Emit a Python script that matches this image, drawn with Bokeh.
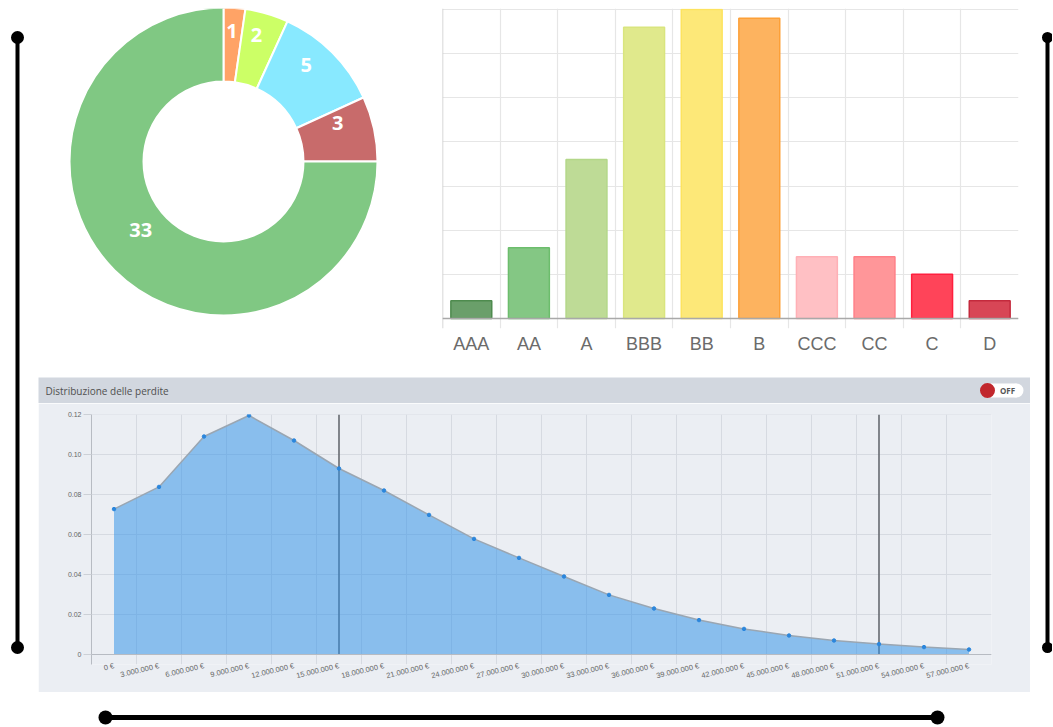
import numpy as np
from bokeh.plotting import figure
from bokeh.layouts import row, column
from bokeh.models import Range1d, FactorRange, FixedTicker, Span
from bokeh.core.properties import value
from bokeh.embed import file_html
from bokeh.resources import INLINE

# ---------------- data ----------------
donut_values = [1, 2, 5, 3, 33]
donut_colors = ["#ffa366", "#ccff66", "#88e9ff", "#c86b6b", "#80c883"]

ratings = ["AAA", "AA", "A", "BBB", "BB", "B", "CCC", "CC", "C", "D"]
rating_counts = [2, 8, 18, 33, 35, 34, 7, 7, 5, 2]
rating_fill = ["#6a9f6a", "#84c784", "#bedb96", "#e0e98c", "#fde878",
               "#fdb35f", "#ffc0c4", "#ff9699", "#ff4459", "#d84656"]
rating_line = ["#4e8b4e", "#6cbd6c", "#b3d789", "#d9e57e", "#fde35f",
               "#fda037", "#ffb0b6", "#ff8088", "#ff1f3e", "#c42a3d"]
count_ticks = [0, 5, 10, 15, 20, 25, 30, 35]

loss_labels = ["0 €", "3.000.000 €", "6.000.000 €", "9.000.000 €", "12.000.000 €",
               "15.000.000 €", "18.000.000 €", "21.000.000 €", "24.000.000 €",
               "27.000.000 €", "30.000.000 €", "33.000.000 €", "36.000.000 €",
               "39.000.000 €", "42.000.000 €", "45.000.000 €", "48.000.000 €",
               "51.000.000 €", "54.000.000 €", "57.000.000 €"]
loss_density = [0.0727, 0.0838, 0.109, 0.1195, 0.107, 0.093, 0.082, 0.0698,
                0.0578, 0.0483, 0.039, 0.0298, 0.023, 0.0172, 0.0128, 0.0095,
                0.007, 0.0052, 0.0037, 0.0025]
density_ticks = [0, 0.02, 0.04, 0.06, 0.08, 0.10, 0.12]
density_tick_labels = ["0", "0.02", "0.04", "0.06", "0.08", "0.10", "0.12"]
marker_levels = ["15.000.000 €", "51.000.000 €"]
panel_title = "Distribuzione delle perdite"
toggle_text = "OFF"


def base(w, h, **kw):
    p = figure(width=w, height=h, output_backend="svg", toolbar_location=None, **kw)
    p.outline_line_color = None
    return p


def blank(w, h, xr, yr, **kw):
    kw.setdefault("min_border", 0)
    p = base(w, h, x_range=xr, y_range=yr,
             x_axis_location=None, y_axis_location=None, **kw)
    p.grid.visible = False
    return p


# ---------------- donut ----------------
pd_ = blank(392, 377, Range1d(-185, 207), Range1d(-167, 153),
            min_border_left=0, min_border_right=0, min_border_top=8,
            min_border_bottom=49)
tot = sum(donut_values)
cum = np.concatenate([[0], np.cumsum(donut_values)])
start = np.pi / 2 - 2 * np.pi * cum[:-1] / tot
end = np.pi / 2 - 2 * np.pi * cum[1:] / tot
pd_.annular_wedge(x=0, y=0, inner_radius=80, outer_radius=154,
                  start_angle=start, end_angle=end, direction="clock",
                  fill_color=donut_colors, line_color="white", line_width=2)
mid = (start + end) / 2
pd_.text(x=117 * np.cos(mid), y=117 * np.sin(mid),
         text=[str(v) for v in donut_values], y_offset=-14,
         text_color="white", text_font=value("Open Sans"), text_font_style="bold",
         text_font_size="20px", text_align="center", text_baseline="middle")

# ---------------- bar chart ----------------
pb = base(600, 377, x_range=FactorRange(factors=ratings),
          y_range=Range1d(-1.133, 35.113),
          min_border_left=12, min_border_right=12, min_border_top=8,
          min_border_bottom=49, y_axis_location=None)
pb.xgrid.ticker = FixedTicker(ticks=list(range(len(ratings) + 1)))
pb.ygrid.ticker = FixedTicker(ticks=count_ticks)
pb.grid.grid_line_color = "#e6e6e6"
pb.grid.grid_line_width = 1.2
pb.add_layout(Span(location=0, dimension="height", line_color="#c9c9c9", line_width=1.5))
pb.vbar(x=ratings, top=rating_counts, width=0.71, fill_color=rating_fill,
        line_color=rating_line, line_width=1.5)
pb.add_layout(Span(location=0, dimension="width", line_color="#a9a9a9", line_width=1.5))
pb.xaxis.axis_line_color = None
pb.xaxis.major_tick_line_color = None
pb.xaxis.minor_tick_line_color = None
pb.xaxis.major_tick_out = 0
pb.xaxis.major_label_text_font = "Liberation Sans"
pb.xaxis.major_label_text_font_size = "18px"
pb.xaxis.major_label_text_color = "#6b6b6b"
pb.xaxis.major_label_standoff = 5

# ---------------- header band ----------------
ph = blank(992, 26, Range1d(0, 992), Range1d(26, 0),
           background_fill_color="#d2d7df", border_fill_color="#d2d7df")
ph.text(x=[7], y=[13], text=[panel_title], text_font=value("Open Sans"),
        text_font_size="10px", text_color="#505050", text_baseline="middle",
        text_align="left")
ph.rect(x=[963.5], y=[13], width=[29], height=[14], fill_color="white", line_color=None)
ph.circle(x=[978], y=[13], radius=7, fill_color="white", line_color=None)
ph.circle(x=[949], y=[13], radius=7.5, fill_color="#c1272d", line_color=None)
ph.text(x=[969], y=[13], text=[toggle_text], text_font=value("Open Sans"),
        text_font_style="bold", text_font_size="8px", text_color="#555555",
        text_align="center", text_baseline="middle")

# ---------------- loss distribution ----------------
pc = base(992, 289, x_range=FactorRange(factors=loss_labels),
          y_range=Range1d(-0.005, 0.120001),
          min_border_left=53, min_border_right=39, min_border_top=11,
          min_border_bottom=28, background_fill_color="#ebeef3",
          border_fill_color="#ebeef3")
pc.xgrid.ticker = FixedTicker(ticks=list(range(len(loss_labels) + 1)))
pc.ygrid.ticker = FixedTicker(ticks=density_ticks)
pc.grid.grid_line_color = "#d6dae1"
pc.grid.grid_line_width = 1
pc.segment(x0=marker_levels, y0=0, x1=marker_levels, y1=density_ticks[-1],
           line_color="#666a70", line_width=1.6)
pc.varea(x=loss_labels, y1=0, y2=loss_density, fill_color="#3091e8", fill_alpha=0.52)
pc.line(x=loss_labels, y=loss_density, line_color="#9aa6b2", line_width=1.5)
pc.scatter(x=loss_labels, y=loss_density, size=3.5, fill_color="#2b86dc",
           line_color="#2b86dc")
pc.add_layout(Span(location=0, dimension="width", line_color="#b7bbc2", line_width=1))

pc.yaxis.ticker = FixedTicker(ticks=density_ticks)
pc.yaxis.major_label_overrides = dict(zip(density_ticks, density_tick_labels))
pc.yaxis.axis_line_color = "#b7bbc2"
pc.yaxis.major_tick_line_color = "#ccd0d6"
pc.yaxis.major_tick_out = 8
pc.yaxis.major_tick_in = 0
pc.yaxis.minor_tick_line_color = None
pc.yaxis.major_label_standoff = 2
pc.yaxis.major_label_text_font = "Liberation Sans"
pc.yaxis.major_label_text_font_size = "7px"
pc.yaxis.major_label_text_color = "#666666"

pc.xaxis.axis_line_color = None
pc.xaxis.major_tick_line_color = None
pc.xaxis.minor_tick_line_color = None
pc.xaxis.major_tick_out = 0
pc.xaxis.major_label_standoff = 1
pc.xaxis.major_label_orientation = 0.24
pc.xaxis.major_label_text_font = "Liberation Sans"
pc.xaxis.major_label_text_font_size = "7.5px"
pc.xaxis.major_label_text_color = "#666666"

# ---------------- decorative frame ----------------
pbot = blank(992, 33, Range1d(0, 992), Range1d(33, 0))
pbot.line(x=[67, 899], y=[25, 25], line_color="black", line_width=5)
pbot.circle(x=[67, 899], y=[25, 25], radius=7, fill_color="black", line_color=None)

pl = blank(38, 725, Range1d(0, 38), Range1d(725, 0))
pl.line(x=[17, 17], y=[37, 647], line_color="black", line_width=4)
pl.circle(x=[17, 17], y=[37, 647], radius=6.5, fill_color="black", line_color=None)

pr = blank(22, 725, Range1d(0, 22), Range1d(725, 0))
pr.line(x=[17, 17], y=[37, 647], line_color="black", line_width=4)
pr.circle(x=[17, 17], y=[37, 647], radius=5.5, fill_color="black", line_color=None)

middle = column(row(column(pd_), column(pb)), column(ph), column(pc), column(pbot))
layout = row(column(pl), middle, column(pr))

with open("out.html", "w") as f:
    f.write(file_html(layout, INLINE))
